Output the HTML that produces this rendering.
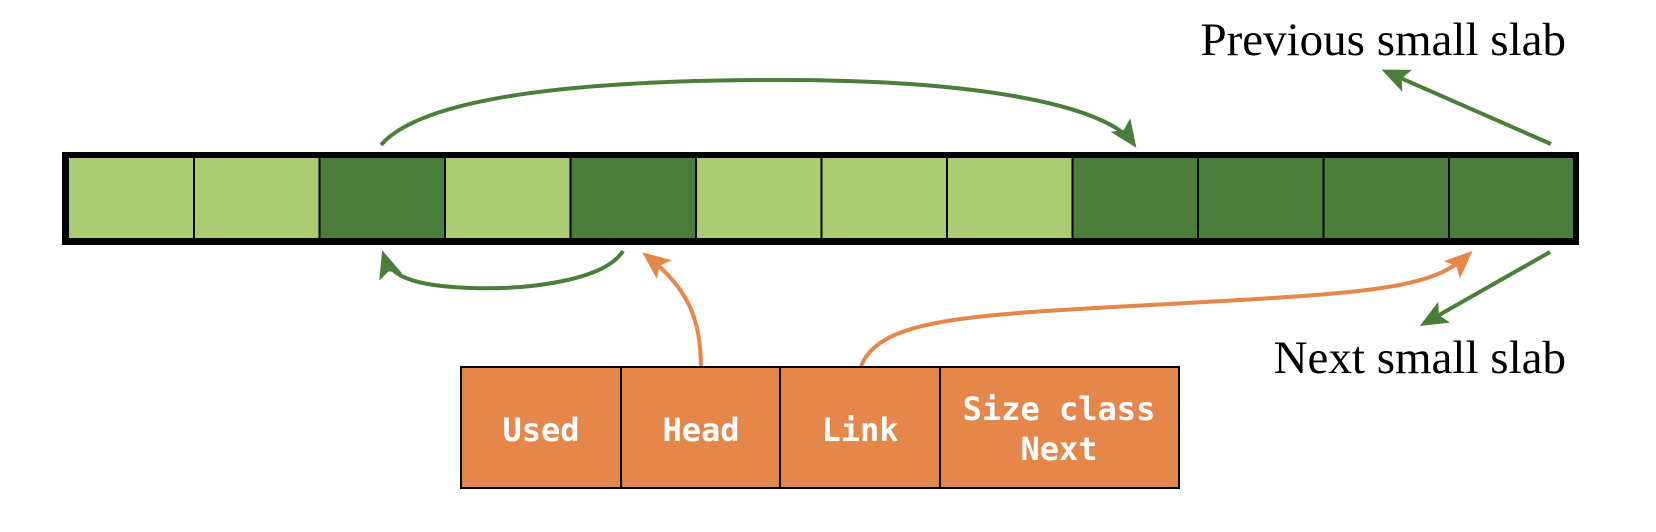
<!DOCTYPE html>
<html><head><meta charset="utf-8"><style>
html,body{margin:0;padding:0;background:#fff;}
svg{display:block;}
</style></head><body>
<svg width="1656" height="532" viewBox="0 0 1656 532" xmlns="http://www.w3.org/2000/svg">
<defs>
<marker id="ag" markerWidth="28" markerHeight="24" refX="22" refY="12" orient="auto" markerUnits="userSpaceOnUse" viewBox="0 0 28 24"><path d="M0,0 L28,12 L0,24 L6,12 z" fill="#4b7d3b"/></marker>
<marker id="ao" markerWidth="28" markerHeight="24" refX="22" refY="12" orient="auto" markerUnits="userSpaceOnUse" viewBox="0 0 28 24"><path d="M0,0 L28,12 L0,24 L6,12 z" fill="#e5874b"/></marker>
</defs>
<rect x="62" y="152" width="1517" height="93" fill="#000"/>
<g>
<rect x="69" y="158" width="125" height="80" fill="#accc72"/>
<rect x="194" y="158" width="125.5" height="80" fill="#accc72"/>
<rect x="319.5" y="158" width="125.5" height="80" fill="#4b7d3b"/>
<rect x="445" y="158" width="125.5" height="80" fill="#accc72"/>
<rect x="570.5" y="158" width="125.5" height="80" fill="#4b7d3b"/>
<rect x="696" y="158" width="125.5" height="80" fill="#accc72"/>
<rect x="821.5" y="158" width="125.5" height="80" fill="#accc72"/>
<rect x="947" y="158" width="125.5" height="80" fill="#accc72"/>
<rect x="1072.5" y="158" width="125.5" height="80" fill="#4b7d3b"/>
<rect x="1198" y="158" width="125.5" height="80" fill="#4b7d3b"/>
<rect x="1323.5" y="158" width="125.5" height="80" fill="#4b7d3b"/>
<rect x="1449" y="158" width="124" height="80" fill="#4b7d3b"/>
</g>
<g stroke="#000" stroke-width="2">
<line x1="194" y1="158" x2="194" y2="238"/><line x1="319.5" y1="158" x2="319.5" y2="238"/>
<line x1="445" y1="158" x2="445" y2="238"/><line x1="570.5" y1="158" x2="570.5" y2="238"/>
<line x1="696" y1="158" x2="696" y2="238"/><line x1="821.5" y1="158" x2="821.5" y2="238"/>
<line x1="947" y1="158" x2="947" y2="238"/><line x1="1072.5" y1="158" x2="1072.5" y2="238"/>
<line x1="1198" y1="158" x2="1198" y2="238"/><line x1="1323.5" y1="158" x2="1323.5" y2="238"/>
<line x1="1449" y1="158" x2="1449" y2="238"/>
</g>
<g fill="none" stroke="#4b7d3b" stroke-width="4">
<path d="M381,145 C420,100 560,80 780,80 C1000,80 1110,110 1133,143" marker-end="url(#ag)"/>
<path d="M623,251 C605,280 530,290 471,288 C410,286 390,275 384,256" marker-end="url(#ag)"/>
<path d="M1551,144 L1387,72" marker-end="url(#ag)"/>
<path d="M1550,252 L1425,323" marker-end="url(#ag)"/>
</g>
<g fill="none" stroke="#e5874b" stroke-width="4">
<path d="M701,366 C700,320 690,290 647,256" marker-end="url(#ao)"/>
<path d="M861,366 C880,320 960,315 1150,305 C1370,293 1430,290 1468,255" marker-end="url(#ao)"/>
</g>
<g fill="#e5874b" stroke="#000" stroke-width="2">
<rect x="461" y="367" width="160" height="121"/>
<rect x="621" y="367" width="159" height="121"/>
<rect x="780" y="367" width="160" height="121"/>
<rect x="940" y="367" width="239" height="121"/>
</g>
<g fill="#fff" font-family="'DejaVu Sans Mono','Liberation Mono',monospace" font-weight="bold" font-size="32" text-anchor="middle">
<text x="541" y="441">Used</text>
<text x="701" y="441">Head</text>
<text x="860" y="441">Link</text>
<text x="1059" y="420">Size class</text>
<text x="1059" y="460">Next</text>
</g>
<g fill="#000" font-family="'Liberation Serif',serif" font-size="47" text-anchor="end">
<text x="1566" y="55">Previous small slab</text>
<text x="1566" y="373">Next small slab</text>
</g>
</svg>
</body></html>
